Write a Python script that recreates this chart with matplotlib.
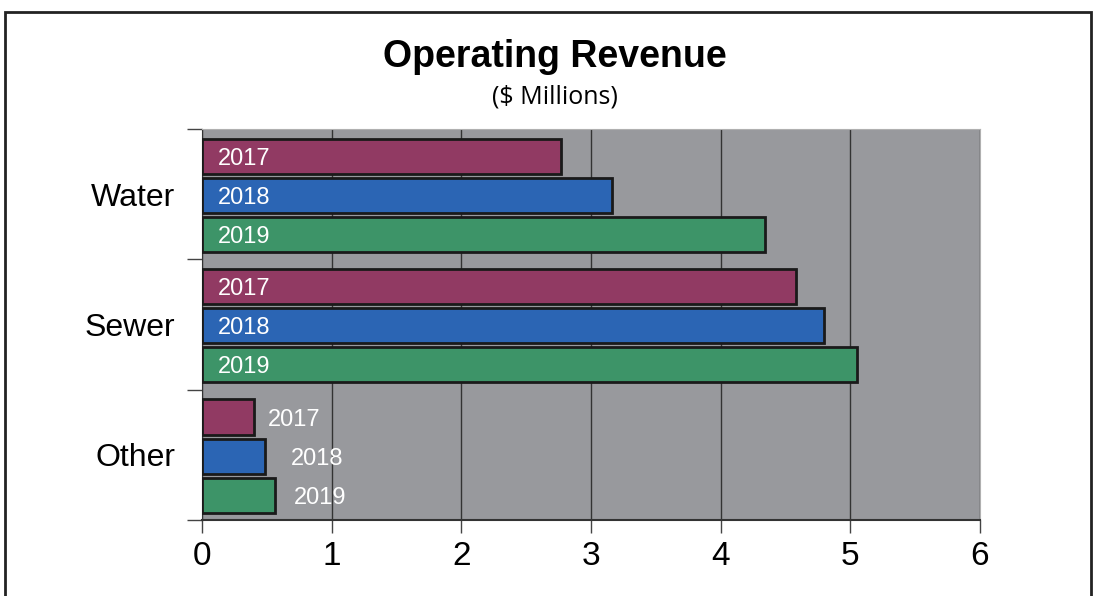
import numpy as np
import matplotlib.pyplot as plt
from matplotlib.patches import Rectangle

# data
categories = ['Water', 'Sewer', 'Other']
years = ['2017', '2018', '2019']
values_2017 = [2.77, 4.58, 0.40]
values_2018 = [3.16, 4.80, 0.49]
values_2019 = [4.34, 5.05, 0.56]
colors = ['#913a63', '#2b65b4', '#3d9468']
x_ticks = [0, 1, 2, 3, 4, 5, 6]

series = [values_2017, values_2018, values_2019]
outside_offsets = [10, 18, 14]  # label offsets (points) for short bars

fig = plt.figure(figsize=(10.94, 5.96), dpi=100)
ax = fig.add_axes([0.1846, 0.1275, 0.7112, 0.6561])
ax.set_facecolor('#98999d')

bar_h = 0.27
step = 0.30
centers = np.arange(len(categories))
for j, vals in enumerate(series):
    y = centers + (j - 1) * step + 0.01
    ax.barh(y, vals, height=bar_h, color=colors[j], edgecolor='#1a1a1a',
            linewidth=2, zorder=3)
    for k, v in enumerate(vals):
        if v > 1:
            ax.text(0.12, y[k], years[j], color='white', fontsize=17,
                    family='Liberation Sans', va='center_baseline', ha='left', zorder=4)
        else:
            ax.annotate(years[j], (v, y[k]), xytext=(outside_offsets[j], 0),
                        textcoords='offset points', color='white', fontsize=17,
                        family='Liberation Sans', va='center_baseline', ha='left',
                        zorder=4)

ax.set_xlim(0, 6)
ax.set_ylim(2.5, -0.5)
ax.set_xticks(x_ticks)
ax.set_xticklabels([str(t) for t in x_ticks], fontsize=24, family='Liberation Sans')
ax.tick_params(axis='x', length=9, width=1, color='#444444', pad=6)
ax.grid(axis='x', color='#333333', linewidth=1, zorder=1)

ax.set_yticks(centers)
ax.set_yticklabels(categories, fontsize=23, family='Liberation Sans')
ax.tick_params(axis='y', length=0, pad=19)
# category boundary ticks
ax.set_yticks([-0.5, 0.5, 1.5, 2.5], minor=True)
ax.tick_params(axis='y', which='minor', length=11, width=1, color='#444444')

for s in ['top', 'right']:
    ax.spines[s].set_color('#b0b0b0')
ax.spines['bottom'].set_color('#333333')
ax.spines['left'].set_color('#333333')
ax.spines['bottom'].set_linewidth(1.5)

fig.text(0.507, 0.905, 'Operating Revenue', ha='center', va='center',
         fontsize=27, fontweight='bold', family='Liberation Sans')
fig.text(0.507, 0.837, '($ Millions)', ha='center', va='center',
         fontsize=18, family='Open Sans')

fig.patches.append(Rectangle((0.0046, -0.1), 0.9925, 1.08, transform=fig.transFigure,
                             fill=False, edgecolor='#222222', linewidth=2))

fig.savefig('out.png', dpi=100)
